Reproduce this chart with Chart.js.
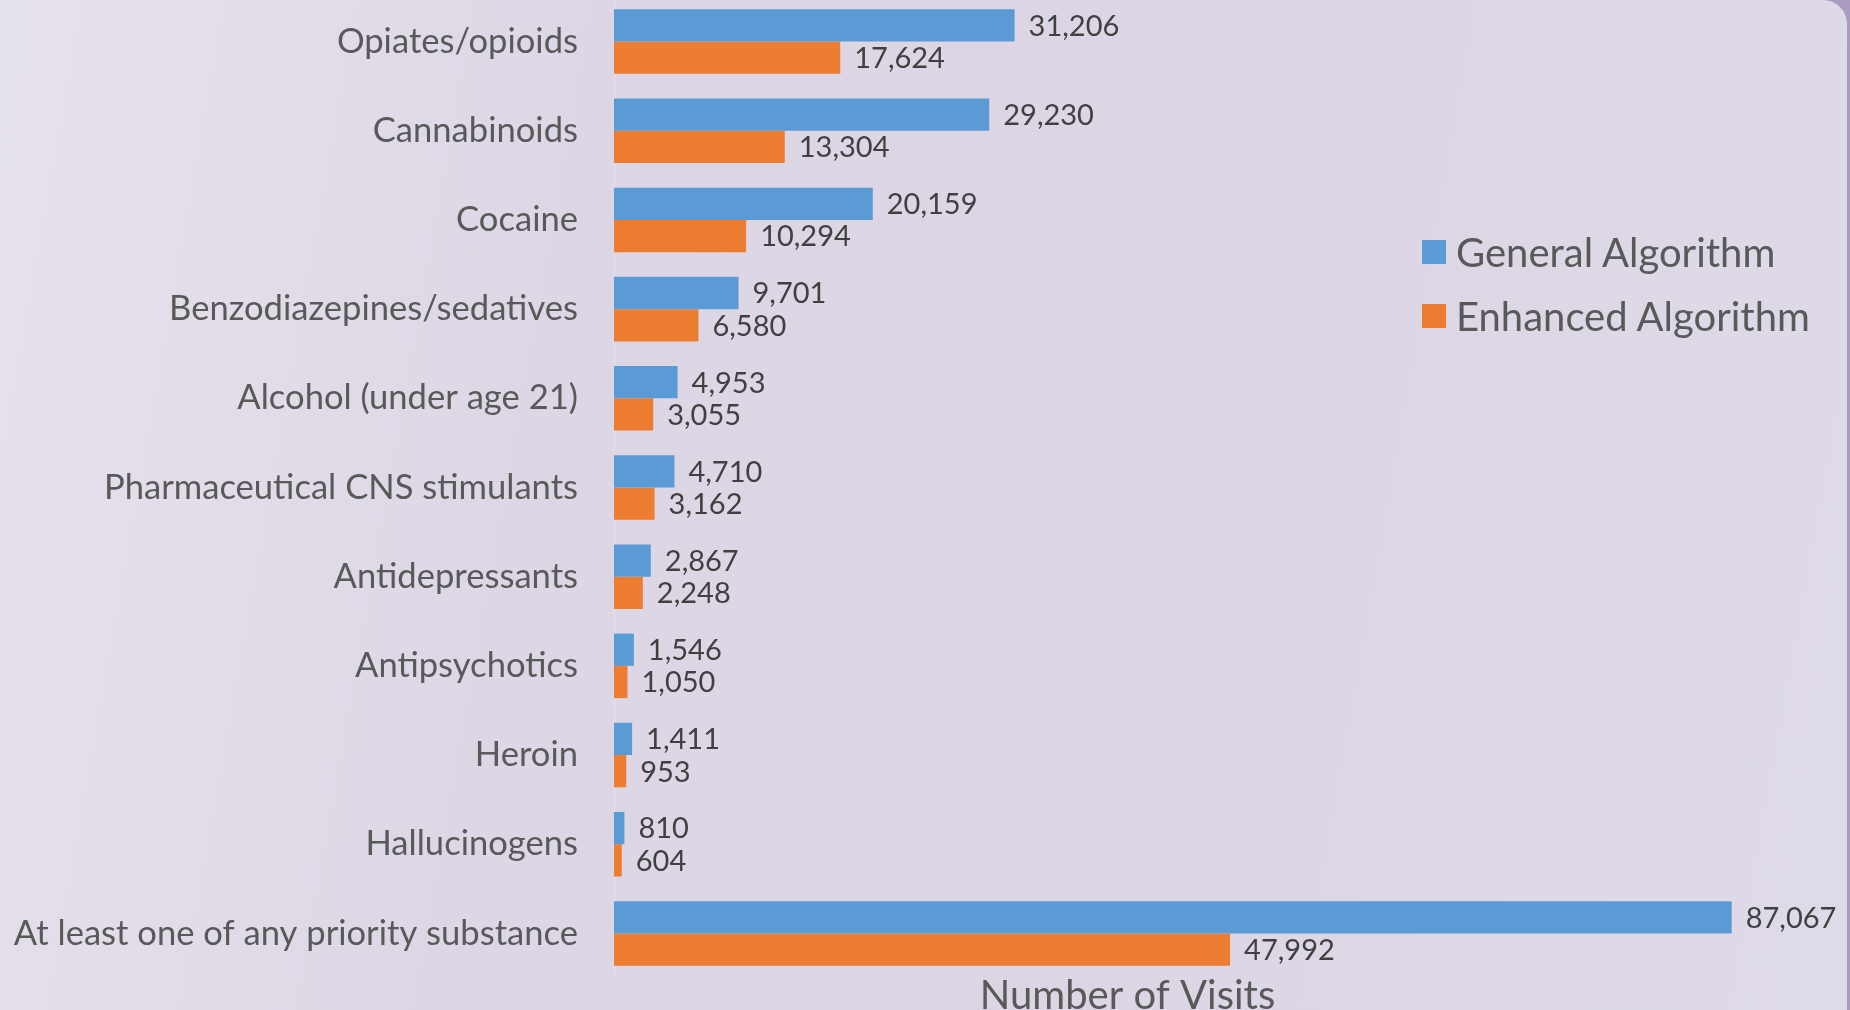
<!DOCTYPE html>
<html>
<head>
<meta charset="utf-8">
<script src="https://cdn.jsdelivr.net/npm/chart.js@4.4.0/dist/chart.umd.min.js"></script>
<style>
  html, body { margin: 0; padding: 0; }
  body {
    width: 1850px; height: 1010px; overflow: hidden;
    background: #a99cbf;
    font-family: Lato, "Open Sans", sans-serif;
  }
  #panel {
    position: absolute; left: 0; top: 0;
    width: 1847px; height: 1010px;
    border-top-right-radius: 24px;
    background: linear-gradient(100deg, #e6e2ec 0%, #ddd7e5 30%, #dcd6e4 60%, #dfdae7 100%);
  }
  /* canvas starts 3px above the page so the first band sits as in the original */
  #wrap { position: absolute; left: 0; top: -3px; width: 1850px; height: 1013px; }
  #legend { position: absolute; left: 1422px; top: 220px; }
  .item { display: flex; align-items: center; height: 64px; color: #595959; font-size: 40px; }
  .box { width: 24px; height: 24px; margin-right: 10px; }
</style>
</head>
<body>
<div id="panel"></div>
<div id="wrap"><canvas id="chart"></canvas></div>
<div id="legend"></div>
<script>
var substances = [
	'Opiates/opioids',
	'Cannabinoids',
	'Cocaine',
	'Benzodiazepines/sedatives',
	'Alcohol (under age 21)',
	'Pharmaceutical CNS stimulants',
	'Antidepressants',
	'Antipsychotics',
	'Heroin',
	'Hallucinogens',
	'At least one of any priority substance'
];
var general_visits = [31206, 29230, 20159, 9701, 4953, 4710, 2867, 1546, 1411, 810, 87067];
var enhanced_visits = [17624, 13304, 10294, 6580, 3055, 3162, 2248, 1050, 953, 604, 47992];
var series_names = ['General Algorithm', 'Enhanced Algorithm'];
var series_colors = ['#5b9bd5', '#ed7d31'];
var axis_title = 'Number of Visits';

// value labels at the end of each bar
var bar_values = {
	id: 'bar_values',
	afterDatasetsDraw: function (chart) {
		var ctx = chart.ctx;
		ctx.save();
		ctx.font = '29px Lato';
		ctx.fillStyle = '#404040';
		ctx.textAlign = 'left';
		ctx.textBaseline = 'middle';
		chart.data.datasets.forEach(function (ds, i) {
			chart.getDatasetMeta(i).data.forEach(function (bar, j) {
				ctx.fillText(ds.data[j].toLocaleString('en-US'), bar.x + 14, bar.y + 1);
			});
		});
		ctx.restore();
	}
};

new Chart(document.getElementById('chart'), {
	type: 'bar',
	data: {
		labels: substances,
		datasets: [{
			label: series_names[0],
			data: general_visits,
			backgroundColor: series_colors[0],
			categoryPercentage: 0.724,
			barPercentage: 1.0,
			clip: false
		}, {
			label: series_names[1],
			data: enhanced_visits,
			backgroundColor: series_colors[1],
			categoryPercentage: 0.724,
			barPercentage: 1.0,
			clip: false
		}]
	},
	options: {
		indexAxis: 'y',
		responsive: true,
		maintainAspectRatio: false,
		animation: false,
		layout: {
			padding: { top: 0, right: 209, bottom: 0, left: 0 }
		},
		plugins: {
			legend: { display: false },
			tooltip: { enabled: false }
		},
		scales: {
			x: {
				min: 0,
				max: 80000,
				ticks: { display: false },
				grid: { display: false },
				border: { display: false },
				title: {
					display: true,
					text: axis_title,
					color: '#595959',
					font: { family: 'Lato', size: 40, lineHeight: 1 },
					padding: { top: 0, bottom: -6 }
				},
				afterFit: function (scale) {
					scale.height = 32;
					scale.paddingLeft = 0;
					scale.paddingRight = 0;
				}
			},
			y: {
				grid: { display: false },
				border: { display: true, color: '#e6e2ec', width: 1 },
				ticks: {
					color: '#595959',
					font: { family: 'Lato', size: 34.6 },
					padding: 28
				},
				afterFit: function (scale) {
					scale.width = 614;
					scale.paddingTop = 0;
					scale.paddingBottom = 0;
				}
			}
		}
	},
	plugins: [bar_values]
});

// legend drawn as html, from the same series arrays
var legend = document.getElementById('legend');
series_names.forEach(function (name, i) {
	var row = document.createElement('div');
	row.className = 'item';
	var box = document.createElement('span');
	box.className = 'box';
	box.style.background = series_colors[i];
	row.appendChild(box);
	row.appendChild(document.createTextNode(name));
	legend.appendChild(row);
});
</script>
</body>
</html>
